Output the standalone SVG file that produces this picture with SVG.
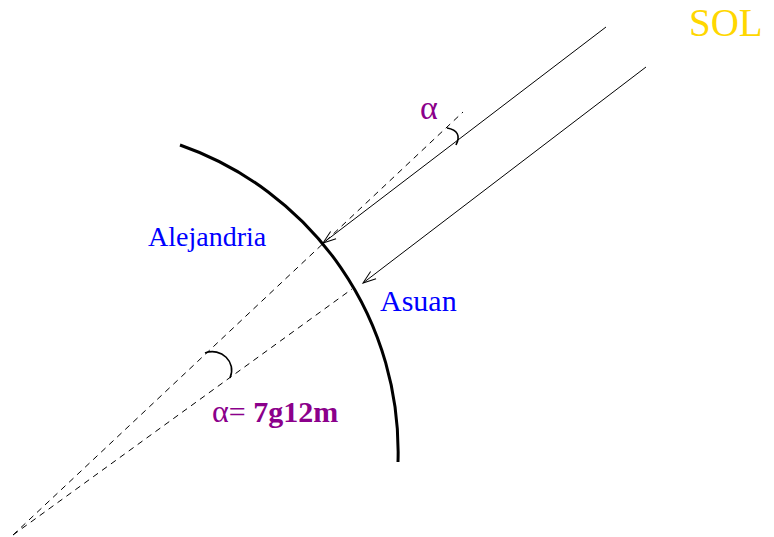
<svg xmlns="http://www.w3.org/2000/svg" width="774" height="537" viewBox="0 0 774 537">
<style>
.ray{stroke:#000;stroke-width:1;fill:none}
.dash{stroke:#000;stroke-width:1;fill:none;stroke-dasharray:6 5}
.ang{stroke:#000;stroke-width:1.6;fill:none}
.t{font-family:"Liberation Serif",serif}
</style>
<defs>
<marker id="ah" markerUnits="userSpaceOnUse" markerWidth="16" markerHeight="12" refX="14" refY="6" orient="auto" overflow="visible">
<path d="M1,1.5 L14,6 L1,10.5" fill="none" stroke="#000" stroke-width="1"/>
</marker>
</defs>
<rect width="774" height="537" fill="#fff"/>
<g id="earth">
<path d="M180,145 A325,325 0 0 1 398,462" fill="none" stroke="#000" stroke-width="3"/>
</g>
<g id="connectors">
<line class="ray" x1="606" y1="27" x2="323" y2="243" marker-end="url(#ah)"/>
<line class="ray" x1="646" y1="67" x2="363" y2="283" marker-end="url(#ah)"/>
<line class="dash" x1="13" y1="535" x2="463" y2="112"/>
<line class="dash" x1="13" y1="535" x2="352" y2="289"/>
<path class="ang" d="M447,128 Q463,131 456,145"/>
<path class="ang" d="M205,353 C221,347 237,362 230,378"/>
</g>
<g id="labels">
<text class="t" x="689" y="36" fill="#ffd700" style="font-size:39px">SOL</text>
<text class="t" x="420" y="119" fill="#8b008b" style="font-size:34px">α</text>
<text class="t" x="148" y="246" fill="#0000ff" style="font-size:28px">Alejandria</text>
<text class="t" x="380" y="311" fill="#0000ff" style="font-size:30px">Asuan</text>
<text class="t" x="212" y="422" fill="#8b008b" style="font-size:30px"><tspan style="font-size:32px">α</tspan>= <tspan font-weight="bold">7g12m</tspan></text>
</g>
</svg>
